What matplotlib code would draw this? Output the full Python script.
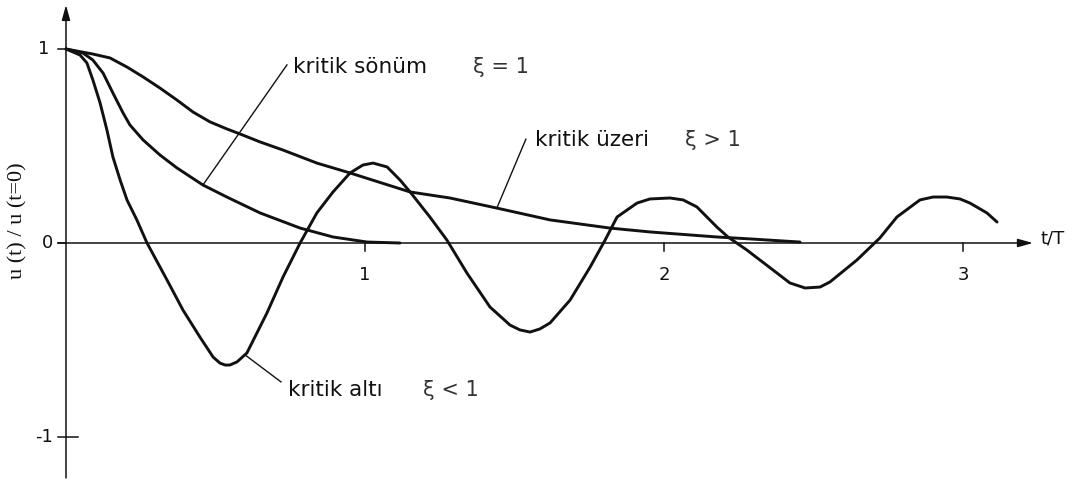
import matplotlib
matplotlib.use("Agg")
import matplotlib.pyplot as plt

# Free vibration response u(t)/u(t=0) versus t/T for three damping levels
t_under = [0.0, 0.047, 0.070, 0.090, 0.114, 0.137, 0.157, 0.181, 0.204, 0.237,
           0.271, 0.338, 0.391, 0.448, 0.492, 0.515, 0.532, 0.548, 0.572, 0.605,
           0.672, 0.726, 0.783, 0.839, 0.893, 0.950, 0.993, 1.027, 1.074, 1.117,
           1.151, 1.217, 1.274, 1.341, 1.418, 1.485, 1.518, 1.552, 1.585, 1.619,
           1.686, 1.753, 1.803, 1.843, 1.910, 1.953, 2.020, 2.064, 2.110, 2.177,
           2.214, 2.277, 2.378, 2.421, 2.472, 2.522, 2.555, 2.645, 2.722, 2.779,
           2.856, 2.900, 2.946, 2.990, 3.023, 3.080, 3.114]
u_under = [1.0, 0.969, 0.928, 0.840, 0.722, 0.582, 0.443, 0.325, 0.222, 0.119,
           0.0, -0.191, -0.345, -0.485, -0.588, -0.619, -0.629, -0.629, -0.613, -0.567,
           -0.361, -0.175, 0.0, 0.155, 0.263, 0.361, 0.402, 0.412, 0.392, 0.325,
           0.263, 0.134, 0.015, -0.155, -0.330, -0.423, -0.448, -0.459, -0.443, -0.412,
           -0.294, -0.124, 0.015, 0.134, 0.206, 0.227, 0.232, 0.222, 0.186, 0.082,
           0.031, -0.036, -0.155, -0.206, -0.232, -0.227, -0.201, -0.088, 0.026, 0.134,
           0.222, 0.237, 0.237, 0.227, 0.206, 0.155, 0.108]

t_crit = [0.0, 0.057, 0.090, 0.124, 0.157, 0.191, 0.214, 0.258, 0.314, 0.371,
          0.458, 0.538, 0.649, 0.783, 0.893, 1.007, 1.117]
u_crit = [1.0, 0.979, 0.943, 0.876, 0.773, 0.670, 0.608, 0.531, 0.454, 0.387,
          0.299, 0.237, 0.155, 0.077, 0.031, 0.005, 0.0]

t_over = [0.0, 0.090, 0.147, 0.204, 0.258, 0.314, 0.371, 0.425, 0.482, 0.538,
          0.582, 0.649, 0.726, 0.839, 0.950, 1.151, 1.284, 1.441, 1.619, 1.819,
          1.953, 2.177, 2.288, 2.455]
u_over = [1.0, 0.974, 0.954, 0.907, 0.856, 0.799, 0.737, 0.675, 0.624, 0.588,
          0.562, 0.521, 0.479, 0.412, 0.361, 0.263, 0.232, 0.180, 0.119, 0.077,
          0.057, 0.031, 0.021, 0.005]

x_ticks = [1, 2, 3]
y_ticks = [1, 0, -1]
y_tick_labels = ["1", "0", "-1"]

fig = plt.figure(figsize=(10.84, 4.84), dpi=100)
ax = fig.add_axes([0, 0, 1, 1])
ax.set_xlim(-0.2207, 3.4047)
ax.set_ylim(-1.2423, 1.2526)
ax.axis("off")

ink = "#111111"
curve_kw = dict(color=ink, lw=2.1, solid_capstyle="round", solid_joinstyle="round")

# coordinate axes with arrow heads
arrow = dict(arrowstyle="-|>,head_length=0.9,head_width=0.25", color=ink, lw=1.1,
             shrinkA=0, shrinkB=0)
ax.annotate("", xy=(0, 1.227), xytext=(0, -1.211), arrowprops=arrow)
ax.annotate("", xy=(3.234, 0), xytext=(-0.027, 0), arrowprops=arrow)

for y in y_ticks:
    right = 0.04 if y == -1 else 0.0
    ax.plot([-0.027, right], [y, y], color=ink, lw=1.1)
for x in x_ticks:
    ax.plot([x, x], [0, -0.04], color=ink, lw=1.1)

tick_font = dict(family="DejaVu Sans", fontsize=13, color=ink)
for y, lab in zip(y_ticks, y_tick_labels):
    xr = -0.057 if y == 1 else -0.043
    ax.text(xr, y, lab, ha="right", va="center", **tick_font)
for x in x_ticks:
    ax.text(x, -0.165, str(x), ha="center", va="center", **tick_font)
ax.text(3.258, 0.025, "t/T", ha="left", va="center", **tick_font)

ax.text(-0.16, 0.114, "u (t) / u (t=0)", rotation=90, ha="center", va="center",
        family="Liberation Serif", fontsize=16, color=ink)

# response curves
ax.plot(t_over, u_over, **curve_kw)
ax.plot(t_crit, u_crit, **curve_kw)
ax.plot(t_under, u_under, **curve_kw)

# labels with leader lines
lab_font = dict(family="DejaVu Sans", fontsize=15.5, color=ink, va="center", ha="left")
sym_font = dict(family="DejaVu Sans", fontsize=15, color="#333333", va="center", ha="left")

ax.plot([0.458, 0.739], [0.299, 0.918], color=ink, lw=1.0)
ax.text(0.759, 0.907, "kritik sönüm", **lab_font)
ax.text(1.361, 0.907, "ξ = 1", **sym_font)

ax.plot([1.441, 1.538], [0.180, 0.535], color=ink, lw=1.0)
ax.text(1.569, 0.531, "kritik üzeri", **lab_font)
ax.text(2.070, 0.531, "ξ > 1", **sym_font)

ax.plot([0.599, 0.719], [-0.577, -0.716], color=ink, lw=1.0)
ax.text(0.742, -0.758, "kritik altı", **lab_font)
ax.text(1.194, -0.758, "ξ < 1", **sym_font)

fig.savefig("out.png", dpi=100)
